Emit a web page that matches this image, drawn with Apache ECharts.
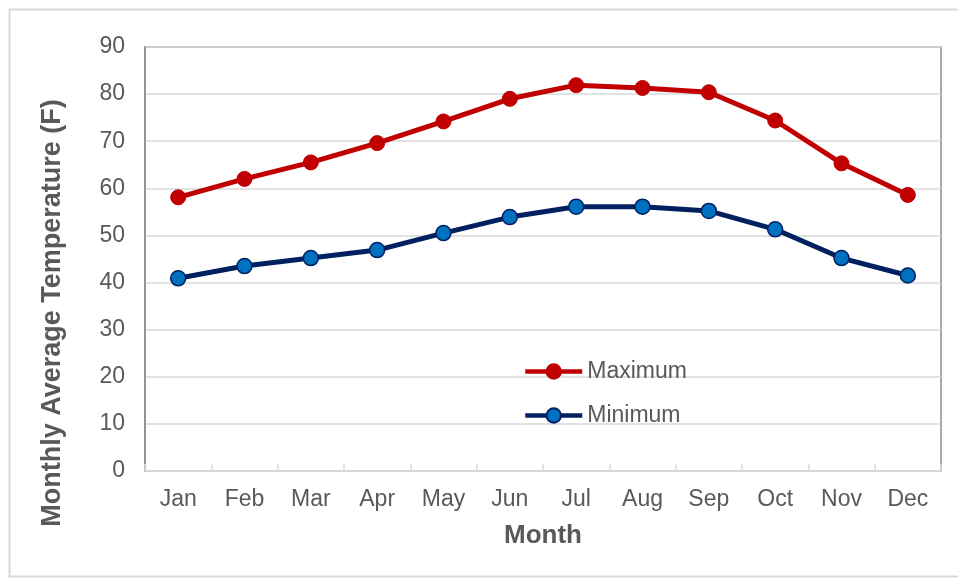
<!DOCTYPE html>
<html><head><meta charset="utf-8">
<script src="https://cdn.jsdelivr.net/npm/echarts@6/dist/echarts.min.js"></script>
<style>html,body{margin:0;padding:0;background:#fff}#c{width:958px;height:579px}</style>
</head><body><div id="c"></div>
<script>
const months = ['Jan','Feb','Mar','Apr','May','Jun','Jul','Aug','Sep','Oct','Nov','Dec'];
const maxTemp = [58.1, 62.0, 65.5, 69.6, 74.2, 79.0, 81.9, 81.3, 80.4, 74.4, 65.3, 58.6];
const minTemp = [40.9, 43.5, 45.2, 46.9, 50.5, 53.9, 56.1, 56.1, 55.2, 51.3, 45.2, 41.5];
const yTicks = {min: 0, max: 90, interval: 10};

const font = 'Liberation Sans, Arial, sans-serif';
const chart = echarts.init(document.getElementById('c'), null, {renderer: 'canvas'});
chart.setOption({
  animation: false,
  backgroundColor: '#fff',
  textStyle: {fontFamily: font},
  graphic: [{type: 'rect', shape: {x: 9.5, y: 9.5, width: 1000, height: 567}, style: {fill: 'none', stroke: '#d9d9d9', lineWidth: 2}, z: -1}],
  grid: {left: 145, right: 17, top: 47, bottom: 108, show: true, borderColor: '#8c8c8c', borderWidth: 1.5},
  legend: {
    orient: 'vertical', left: 518, top: 355,
    itemWidth: 57, itemHeight: 18, itemGap: 21,
    lineStyle: {width: 4.5},
    textStyle: {fontSize: 23, color: '#595959', fontFamily: font},
    data: ['Maximum', 'Minimum']
  },
  xAxis: {
    type: 'category', data: months, boundaryGap: true,
    name: 'Month', nameLocation: 'middle', nameGap: 52,
    nameTextStyle: {fontSize: 26, fontWeight: 'bold', color: '#595959', fontFamily: font},
    axisLine: {lineStyle: {color: '#d9d9d9', width: 1.5}},
    axisTick: {show: true, inside: true, length: 7, lineStyle: {color: '#d9d9d9', width: 1.5}},
    axisLabel: {fontSize: 23, color: '#595959', margin: 17, fontFamily: font}
  },
  yAxis: {
    type: 'value', min: yTicks.min, max: yTicks.max, interval: yTicks.interval,
    name: 'Monthly Average Temperature (F)', nameLocation: 'middle', nameGap: 79,
    nameTextStyle: {fontSize: 27, fontWeight: 'bold', color: '#595959', fontFamily: font, padding: [0, 108, 0, 0]},
    axisLine: {show: true, lineStyle: {color: '#8c8c8c', width: 1.5}},
    axisTick: {show: false},
    axisLabel: {fontSize: 23, color: '#595959', margin: 20, fontFamily: font},
    splitLine: {lineStyle: {color: '#d9d9d9', width: 1.5}}
  },
  series: [
    {name: 'Maximum', type: 'line', data: maxTemp, symbol: 'circle', symbolSize: 15,
     lineStyle: {color: '#C00000', width: 5}, itemStyle: {color: '#C00000', borderColor: '#C00000', borderWidth: 1}},
    {name: 'Minimum', type: 'line', data: minTemp, symbol: 'circle', symbolSize: 15,
     lineStyle: {color: '#002060', width: 5}, itemStyle: {color: '#0070C0', borderColor: '#002060', borderWidth: 1.5}}
  ]
});
</script></body></html>
